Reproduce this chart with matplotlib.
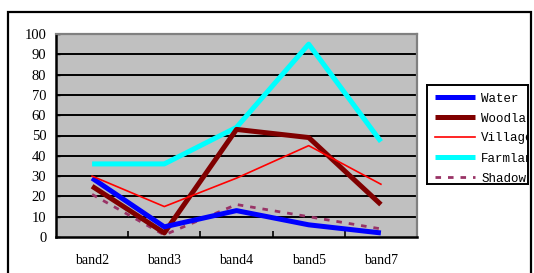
import matplotlib
matplotlib.use("Agg")
import matplotlib.pyplot as plt
from matplotlib.patches import Rectangle

bands = ["band2", "band3", "band4", "band5", "band7"]
water = [29, 5, 13, 6, 2]
woodland = [25, 2, 53, 49, 16]
village = [30, 15, 29, 45, 26]
farmland = [36, 36, 54, 95, 47]
shadow = [21, 1, 16, 10, 4]
yticks = list(range(0, 101, 10))

W, H = 534, 273
fig = plt.figure(figsize=(W / 100, H / 100), dpi=100)

# outer chart frame
fig.patches.append(Rectangle((8 / W, -0.2), (531 - 8) / W, 1.2 - 12 / H,
                             transform=fig.transFigure, fill=False,
                             edgecolor="black", linewidth=1.6, zorder=0))

ax = fig.add_axes([56 / W, 1 - 237 / H, (417 - 56) / W, (237 - 34) / H])
ax.set_facecolor("#C0C0C0")
x = list(range(len(bands)))

ax.plot(x, water, color="#0000FF", lw=3.6, solid_capstyle="butt", zorder=5, label="Water")
ax.plot(x, woodland, color="#800000", lw=3.6, solid_capstyle="butt", zorder=4, label="Woodland")
ax.plot(x, village, color="#FF0000", lw=1.2, zorder=6, label="Village")
ax.plot(x, farmland, color="#00FFFF", lw=3.6, solid_capstyle="butt", zorder=3, label="Farmland")
ax.plot(x, shadow, color="#993366", lw=2.0, ls=(0, (2, 2.5)), zorder=2, label="Shadow")

ax.set_xlim(-0.5, len(bands) - 0.5)
ax.set_ylim(0, 100)
ax.set_yticks(yticks)
ax.set_yticklabels([str(v) for v in yticks], family="Liberation Serif", fontsize=10.5)
ax.set_xticks([i + 0.5 for i in range(len(bands) - 1)])
ax.set_xticklabels([])
ax.set_xticks(x, minor=True)
ax.set_xticklabels(bands, minor=True, family="Liberation Serif", fontsize=10)
ax.tick_params(axis="x", which="major", direction="in", length=4, width=1.2, color="black")
ax.tick_params(axis="x", which="minor", length=0, pad=12.5)
ax.tick_params(axis="y", direction="in", length=3, width=1, pad=7)
for v in yticks[1:]:
    ax.axhline(v, color="black", lw=1.4, zorder=1)
for s in ["left", "bottom"]:
    ax.spines[s].set_color("black")
    ax.spines[s].set_linewidth(1.8)
for s in ["top", "right"]:
    ax.spines[s].set_color("#808080")
    ax.spines[s].set_linewidth(1.6)

# legend
lax = fig.add_axes([427 / W, 1 - 184 / H, (528 - 427) / W, (184 - 85) / H])
lax.set_xticks([])
lax.set_yticks([])
lax.set_facecolor("white")
for s in lax.spines.values():
    s.set_color("black")
    s.set_linewidth(1.4)
handles, labels = ax.get_legend_handles_labels()
leg = lax.legend(handles, labels, loc="upper left", bbox_to_anchor=(0, 1),
                 frameon=False, borderaxespad=0.0, borderpad=0.6,
                 handlelength=3.2, handletextpad=0.55, labelspacing=0.64,
                 prop={"family": "Liberation Mono", "size": 9})
for t in leg.get_texts():
    t.set_clip_on(True)
    t.set_clip_box(lax.bbox)

fig.savefig("out.png", dpi=100)
